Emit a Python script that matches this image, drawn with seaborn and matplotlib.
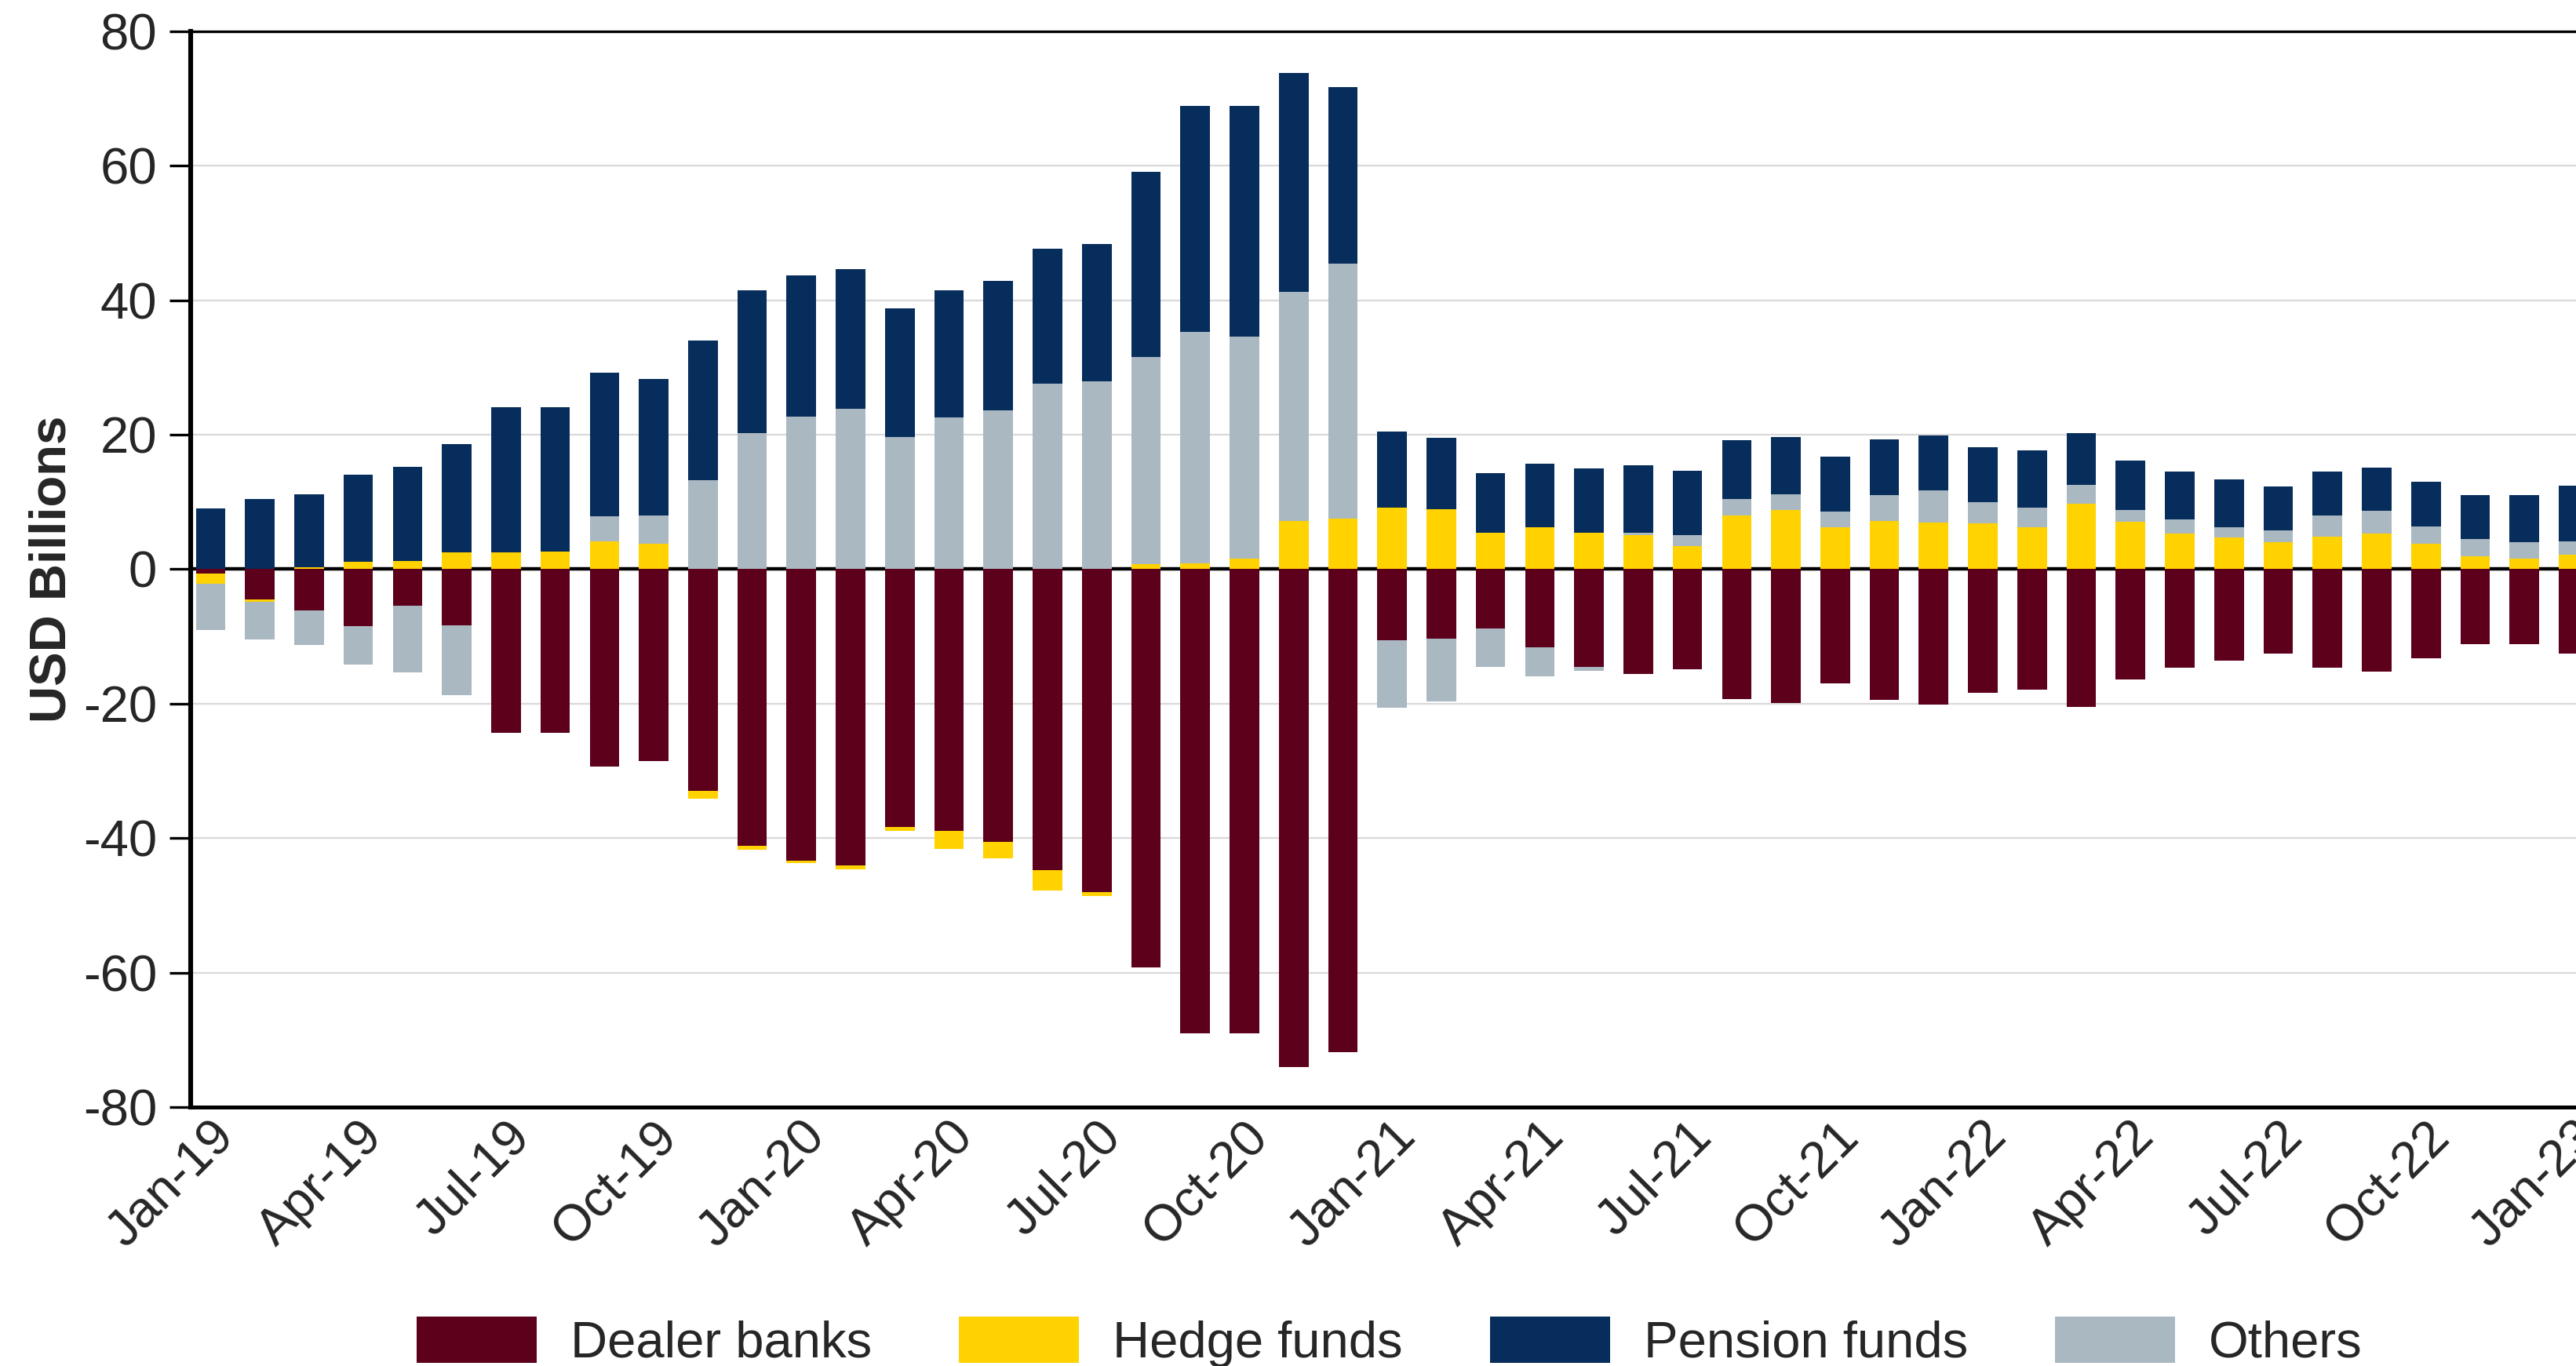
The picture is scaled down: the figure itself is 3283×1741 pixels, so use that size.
import numpy as np
import pandas as pd
import matplotlib
matplotlib.use("Agg")
import matplotlib.pyplot as plt
import matplotlib.transforms as mtransforms
from matplotlib.patches import Patch
import seaborn as sns

# === data (USD billions, monthly Jan-19 .. Jan-23) ===
months = pd.date_range("2019-01-01", "2023-01-01", freq="MS").strftime("%b-%y").tolist()

dealer_banks = [-0.6, -4.5, -6.1, -8.5, -5.4, -8.4, -24.3, -24.3, -29.4, -28.5, -33.0, -41.1,
                -43.3, -44.0, -38.3, -38.9, -40.5, -44.8, -48.0, -59.2, -69.0, -69.0, -74.0, -71.8,
                -10.6, -10.3, -8.8, -11.6, -14.55, -15.6, -14.9, -19.35, -19.9, -16.95, -19.45, -20.1,
                -18.4, -17.9, -20.5, -16.4, -14.7, -13.55, -12.5, -14.7, -15.2, -13.2, -11.2, -11.2,
                -12.6]
hedge_funds = [-1.6, -0.4, 0.3, 1.1, 1.2, 2.5, 2.5, 2.6, 4.1, 3.8, -1.1, -0.6,
               -0.4, -0.65, -0.6, -2.7, -2.5, -3.0, -0.6, 0.75, 0.85, 1.6, 7.2, 7.5,
               9.2, 8.9, 5.4, 6.25, 5.4, 5.05, 3.4, 8.0, 8.8, 6.2, 7.15, 6.95,
               6.85, 6.2, 9.7, 7.05, 5.3, 4.7, 4.0, 4.85, 5.3, 3.85, 1.95, 1.6,
               2.2]
others = [-6.9, -5.6, -5.2, -5.7, -9.95, -10.3, 0.0, 0.0, 3.8, 4.2, 13.2, 20.2,
          22.7, 23.9, 19.7, 22.6, 23.6, 27.6, 28.0, 30.85, 34.5, 33.0, 34.0, 37.9,
          -10.05, -9.4, -5.7, -4.3, -0.55, 0.35, 1.7, 2.4, 2.4, 2.4, 3.85, 4.75,
          3.15, 3.0, 2.9, 1.75, 2.1, 1.5, 1.8, 3.15, 3.35, 2.5, 2.5, 2.45,
          2.0]
pension_funds = [9.0, 10.5, 10.9, 12.95, 14.0, 16.1, 21.6, 21.5, 21.3, 20.3, 20.85, 21.3,
                 21.0, 20.75, 19.1, 18.9, 19.3, 20.1, 20.4, 27.5, 33.55, 34.3, 32.6, 26.3,
                 11.3, 10.6, 8.9, 9.4, 9.6, 10.05, 9.6, 8.75, 8.5, 8.15, 8.3, 8.2,
                 8.2, 8.5, 7.7, 7.4, 7.1, 7.15, 6.5, 6.5, 6.45, 6.65, 6.6, 7.0,
                 8.25]

series_names = ["Dealer banks", "Hedge funds", "Pension funds", "Others"]
colors = {"Dealer banks": "#5C001C", "Hedge funds": "#FFD200",
          "Pension funds": "#062D5B", "Others": "#AAB8C1"}

# stacking order (from zero outwards)
stack_order = ["Dealer banks", "Hedge funds", "Others", "Pension funds"]
values = {"Dealer banks": dealer_banks, "Hedge funds": hedge_funds,
          "Others": others, "Pension funds": pension_funds}

arr = np.array([values[s] for s in stack_order])
pos_cum = np.cumsum(np.clip(arr, 0, None), axis=0)
neg_cum = np.cumsum(np.clip(arr, None, 0), axis=0)

# === style ===
sns.set_style("white")
plt.rcParams["font.family"] = ["Liberation Sans", "DejaVu Sans"]
plt.rcParams["axes.unicode_minus"] = False

fig = plt.figure(figsize=(16.415, 8.705), dpi=200)
ax = fig.add_axes([0.07402, 0.18955, 0.93460, 0.78748])

# draw outer cumulative bars first, inner ones on top -> stacked look
for i in reversed(range(len(stack_order))):
    c = colors[stack_order[i]]
    for cum in (pos_cum[i], neg_cum[i]):
        sns.barplot(x=months, y=cum, order=months, color=c, saturation=1,
                    width=0.6, linewidth=0, errorbar=None, ax=ax, zorder=3)

ax.axhline(0, color="black", lw=1.6, zorder=2)

ax.set_ylim(-80, 80)
ax.set_yticks(np.arange(-80, 81, 20))
ax.set_xlim(-0.405, 48.5)
ax.set_xticks(range(0, len(months), 3))
ax.set_xticklabels(months[::3], rotation=45, ha="right", va="top",
                   rotation_mode="anchor")
offset = mtransforms.ScaledTranslation(-5 / 200, 0, fig.dpi_scale_trans)
for lab in ax.get_xticklabels():
    lab.set_transform(lab.get_transform() + offset)

ax.yaxis.grid(True, color="#d9d9d9", lw=0.8, zorder=0)
ax.xaxis.grid(False)
ax.set_axisbelow(True)

ax.tick_params(axis="y", labelsize=23.5, length=9.7, width=1.2, pad=5.8,
               color="black", left=True, direction="out")
ax.tick_params(axis="x", labelsize=23.5, length=0, pad=2.5)

for side in ["left", "bottom", "top", "right"]:
    ax.spines[side].set_color("black")
ax.spines["left"].set_linewidth(2.2)
ax.spines["bottom"].set_linewidth(1.8)
ax.spines["top"].set_linewidth(1.2)

ax.set_xlabel("")
ax.set_ylabel("USD Billions", fontsize=23.5, fontweight="bold")
ax.yaxis.set_label_coords(-0.0476, 0.5)

handles = [Patch(facecolor=colors[s], edgecolor="none", label=s) for s in series_names]
fig.legend(handles=handles, loc="lower center", bbox_to_anchor=(0.5394, -0.001),
           ncol=4, frameon=False, fontsize=23.5, handlelength=2.34,
           handleheight=1.03, handletextpad=0.66, columnspacing=1.7,
           borderpad=0, borderaxespad=0)

fig.savefig("out.png", dpi=200)
